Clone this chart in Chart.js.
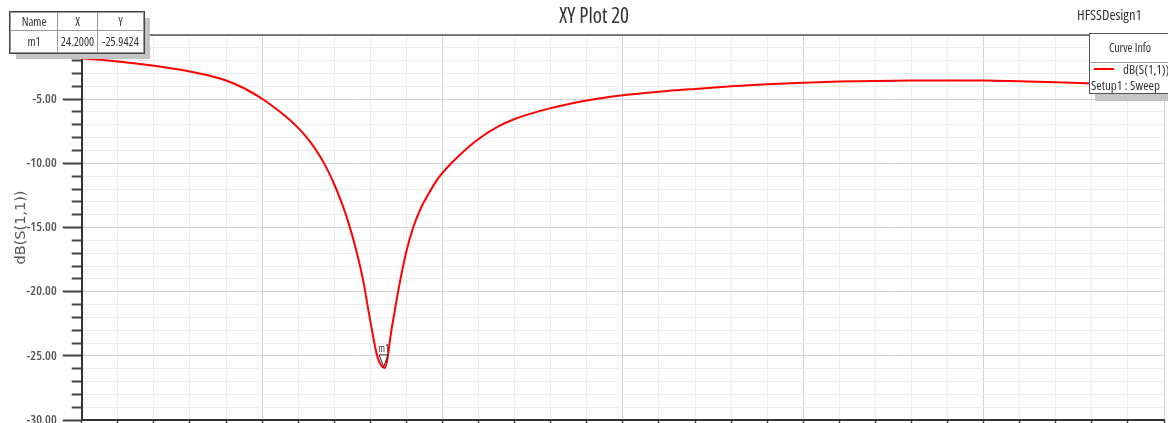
<!DOCTYPE html>
<html><head><meta charset="utf-8">
<script src="https://cdn.jsdelivr.net/npm/chart.js@4.4.1/dist/chart.umd.min.js"></script>
<style>
html,body{margin:0;padding:0;background:#fff;overflow:hidden}
#wrap{position:relative;width:1168px;height:423px;overflow:hidden}
canvas{display:block}
.nf{font-family:"Open Sans",sans-serif;font-stretch:condensed}
.sc{font-stretch:semi-condensed}
#tbl{position:absolute;left:10px;top:12px;border-collapse:collapse;background:#fff;box-shadow:6px 6px 0 #c4c4c4;font-size:12px;color:#333;outline:1px solid #444}
#tbl td{border:1px solid #999;text-align:center;padding:0;white-space:nowrap}
#design{position:absolute;left:1077px;top:5px;font-size:14.5px;color:#333}
#legend{position:absolute;left:1089px;top:33px;width:86px;height:59px;background:#fff;border:1px solid #555;box-shadow:6px 7px 0 #c4c4c4;color:#333}
#legend .hd{height:28px;line-height:28px;text-align:center;font-size:12px;border-bottom:1px solid #999;padding-right:6px}
#legend .sw{position:absolute;left:4px;top:34px;width:20px;height:2px;background:#ff0000}
#legend .l1{position:absolute;left:33px;top:26px;font-size:13px;white-space:nowrap}
#legend .l2{position:absolute;left:1px;top:42px;font-size:13px;white-space:nowrap}
</style></head>
<body>
<div id="wrap">
<canvas id="c" width="1168" height="423"></canvas>
<table id="tbl" class="nf">
<tr style="height:18px"><td style="width:46px">Name</td><td style="width:39px">X</td><td style="width:45px">Y</td></tr>
<tr style="height:22px"><td>m1</td><td>24.2000</td><td>-25.9424</td></tr>
</table>
<div id="design" class="nf sc">HFSSDesign1</div>
<div id="legend" class="nf"><div class="hd">Curve Info</div><div class="sw"></div><div class="l1">dB(S(1,1))</div><div class="l2">Setup1 : Sweep</div></div>
</div>
<script>
// ---- data ----
const freqGHz = [20.0, 20.5, 21.0, 21.5, 21.75, 22.0, 22.25, 22.5, 22.6, 22.8, 23.0, 23.1, 23.2, 23.3, 23.4, 23.5, 23.6, 23.7, 23.8, 23.9, 24.0, 24.1, 24.2, 24.3, 24.4, 24.5, 24.6, 24.7, 24.8, 24.9, 25.0, 25.25, 25.5, 25.75, 26.0, 26.5, 27.0, 27.5, 28.0, 28.5, 29.0, 29.5, 30.0, 30.5, 31.0, 31.5, 32.0, 32.5, 33.0, 33.5, 34.0, 34.5, 35.0];
const dBS11 = [-1.82, -2.06, -2.40, -2.84, -3.14, -3.55, -4.15, -4.97, -5.36, -6.22, -7.24, -7.86, -8.58, -9.43, -10.43, -11.63, -13.03, -14.68, -16.68, -19.1, -22.3, -25.1, -25.94, -22.75, -19.55, -16.85, -14.9, -13.5, -12.45, -11.5, -10.75, -9.3, -8.1, -7.2, -6.55, -5.7, -5.1, -4.7, -4.42, -4.2, -4.00, -3.84, -3.72, -3.63, -3.58, -3.55, -3.54, -3.55, -3.60, -3.68, -3.78, -3.88, -3.97];
const markerNames = ['m1'];
const markerX = [24.2];
const markerY = [-25.9424];
const xMin = 20, xMax = 35, xMinorStep = 0.5, xMajorStep = 2.5;
const yMin = -30, yMax = 0, yMinorStep = 1, yMajorStep = 5;

const NF = '"Open Sans", sans-serif';
const isMajor = (v, step) => Math.abs(v / step - Math.round(v / step)) < 1e-6;

const decor = {
  id: 'decor',
  afterDatasetsDraw(chart) {
    const {ctx, chartArea: a, scales: {x, y}} = chart;
    ctx.save();
    ctx.strokeStyle = '#555'; ctx.lineWidth = 1.5;
    ctx.beginPath(); ctx.moveTo(a.left, a.top); ctx.lineTo(a.right, a.top); ctx.stroke();
    markerX.forEach((mx, i) => {
      const px = x.getPixelForValue(mx), py = y.getPixelForValue(markerY[i]);
      ctx.beginPath();
      ctx.moveTo(px - 1, py - 1); ctx.lineTo(px - 5.5, py - 13); ctx.lineTo(px + 3, py - 13); ctx.closePath();
      ctx.fillStyle = '#fff'; ctx.fill();
      ctx.strokeStyle = '#222'; ctx.lineWidth = 1; ctx.stroke();
      ctx.fillStyle = '#333'; ctx.font = 'normal condensed 10px ' + NF;
      ctx.textAlign = 'center'; ctx.textBaseline = 'bottom';
      ctx.fillText(markerNames[i], px - 1, py - 14);
    });
    ctx.restore();
  }
};

new Chart(document.getElementById('c'), {
  type: 'line',
  data: {
    datasets: [{
      label: 'dB(S(1,1))',
      data: freqGHz.map((f, i) => ({x: f, y: dBS11[i]})),
      borderColor: '#ff0000',
      borderWidth: 2,
      pointRadius: 0,
      cubicInterpolationMode: 'monotone',
      fill: false
    }]
  },
  options: {
    responsive: false,
    animation: false,
    layout: {padding: {left: 24, right: 4, top: 0, bottom: 0}},
    plugins: {
      legend: {display: false},
      tooltip: {enabled: false},
      title: {
        display: true, text: 'XY Plot 20', color: '#333',
        font: {family: NF, size: 21, weight: 'semi-condensed', lineHeight: 1.2},
        padding: {top: 4, bottom: 5.8}
      }
    },
    scales: {
      x: {
        type: 'linear', min: xMin, max: xMax,
        ticks: {display: false, stepSize: xMinorStep, maxTicksLimit: 1000},
        grid: {
          color: c => isMajor(c.tick.value, xMajorStep) ? '#d2d2d2' : '#ececec',
          lineWidth: 1, tickLength: 3, tickColor: '#444', tickWidth: 1.5
        },
        border: {color: '#333', width: 2},
        afterFit: s => { s.height = 3; s.paddingLeft = 0; s.paddingRight = 0; }
      },
      y: {
        type: 'linear', min: yMin, max: yMax,
        ticks: {
          stepSize: yMinorStep, maxTicksLimit: 1000, autoSkip: false, padding: 6,
          color: '#555', font: {family: NF, size: 13, weight: '600 condensed'},
          callback: v => isMajor(v, yMajorStep) ? v.toFixed(2) : ''
        },
        grid: {
          color: c => isMajor(c.tick.value, yMajorStep) ? '#d2d2d2' : '#ececec',
          lineWidth: 1, tickLength: 19, tickColor: '#444', tickWidth: 2,
          tickBorderDash: c => isMajor(c.tick.value, yMajorStep) ? [] : [10, 9],
          tickBorderDashOffset: c => isMajor(c.tick.value, yMajorStep) ? 0 : 10
        },
        border: {color: '#333', width: 2},
        title: {
          display: true, text: 'dB(S(1,1))', color: '#555',
          font: {family: '"DejaVu Sans", sans-serif', size: 14.5, weight: 'normal'},
          padding: {top: -11, bottom: 0}
        },
        afterFit: s => { s.width = 57.7; s.paddingTop = 0; s.paddingBottom = 0; }
      }
    }
  },
  plugins: [decor]
});
</script>
</body></html>
